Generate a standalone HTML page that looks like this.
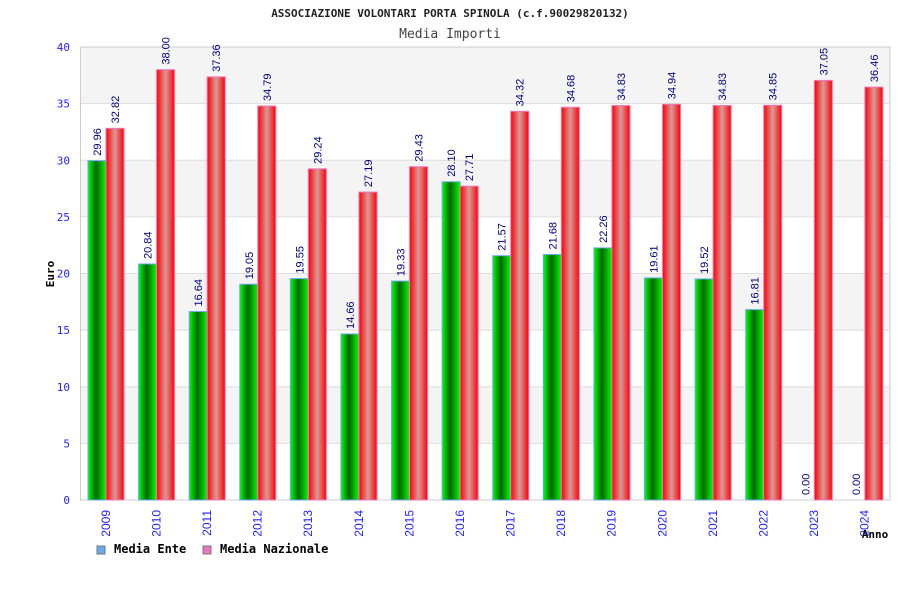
<!DOCTYPE html>
<html><head><meta charset="utf-8"><style>body{margin:0;background:#fff}svg text{font-family:"DejaVu Sans Mono","Liberation Mono",monospace}svg text.s{font-family:"Liberation Sans","DejaVu Sans",sans-serif}</style></head>
<body>
<svg id="c" width="900" height="600" xmlns="http://www.w3.org/2000/svg">
<defs>
<linearGradient id="gg" x1="0" x2="1"><stop offset="0" stop-color="#00ff00"/><stop offset="0.45" stop-color="#006600"/><stop offset="1" stop-color="#00ff00"/></linearGradient>
<linearGradient id="gr" x1="0" x2="1"><stop offset="0" stop-color="#ff0000"/><stop offset="0.5" stop-color="#d89a9a"/><stop offset="1" stop-color="#ff0000"/></linearGradient>
<clipPath id="cl"><rect x="0" y="36" width="900" height="600"/></clipPath>
</defs>
<text x="450" y="17" text-anchor="middle" font-size="11" font-weight="bold" fill="#222">ASSOCIAZIONE VOLONTARI PORTA SPINOLA (c.f.90029820132)</text>
<text x="450" y="38" text-anchor="middle" font-size="13" fill="#444">Media Importi</text>
<g id="grid"></g>
<g id="bars" clip-path="url(#cl)"></g>
<text x="54" y="274" transform="rotate(-90 54 274)" text-anchor="middle" font-size="11" font-weight="bold" fill="#000">Euro</text>
<text x="875" y="538" text-anchor="middle" font-size="11" font-weight="bold" fill="#000">Anno</text>
<g>
<rect x="97" y="546" width="8" height="8" fill="#66aaee" stroke="#777"/>
<text x="114" y="553" font-size="12" font-weight="bold">Media Ente</text>
<rect x="203" y="546" width="8" height="8" fill="#ee77bb" stroke="#777"/>
<text x="220" y="553" font-size="12" font-weight="bold">Media Nazionale</text>
</g>
</svg>
<script>
const years=["2009","2010","2011","2012","2013","2014","2015","2016","2017","2018","2019","2020","2021","2022","2023","2024"];
const ente=[29.96,20.84,16.64,19.05,19.55,14.66,19.33,28.10,21.57,21.68,22.26,19.61,19.52,16.81,0,0];
const naz=[32.82,38.00,37.36,34.79,29.24,27.19,29.43,27.71,34.32,34.68,34.83,34.94,34.83,34.85,37.05,36.46];
const yTicks=[0,5,10,15,20,25,30,35,40];
const L=80.5,R=890,T=47,B=500,yMax=40;
const gw=(R-L)/years.length;
const y=v=>B-(v/yMax)*(B-T);
const NS="http://www.w3.org/2000/svg";
function mk(t,a,p){const e=document.createElementNS(NS,t);for(const k in a)e.setAttribute(k,a[k]);p.appendChild(e);return e;}
const grid=document.getElementById('grid'),bars=document.getElementById('bars');
for(let i=0;i<yTicks.length-1;i++){
 const r=mk('rect',{x:L,y:y(yTicks[i+1]),width:R-L,height:y(yTicks[i])-y(yTicks[i+1]),fill:(i%2==1)?'#f4f4f4':'#ffffff'},grid);
 
 
}
yTicks.forEach(v=>{
 const l=mk('line',{x1:L,x2:R,y1:y(v),y2:y(v),stroke:'#dddddd'},grid);
 
 
 const t=mk('text',{x:70,y:y(v)+4,'text-anchor':'end','font-size':11,fill:'#2222ff'},grid);
 t.textContent=v;
 
 
});
mk('rect',{x:L,y:T,width:R-L,height:B-T,fill:'none',stroke:'#cccccc'},grid);
years.forEach((yr,i)=>{
 const g0=L+i*gw;
 [[ente[i],7.5,'url(#gg)','#66aaee','bar-ente-'+yr],[naz[i],25.5,'url(#gr)','#ee77bb','bar-nazionale-'+yr]].forEach(([v,off,f,s,nm])=>{
  const x=g0+off;
  if(v>0){const r=mk('rect',{x:x,y:y(v),width:18,height:B-y(v),fill:f,stroke:s,'stroke-width':1},bars);
  
  }
  const lx=x+13,ly=y(v)-5;
  const t=mk('text',{x:lx,y:ly,transform:`rotate(-90 ${lx} ${ly})`,'font-size':11,fill:'#000080','class':'s'},bars);
  t.textContent=v.toFixed(2);
  
  
 });
 const cx=g0+gw/2+4,cy=510;
 const t=mk('text',{x:cx,y:cy,transform:`rotate(-90 ${cx} ${cy})`,'text-anchor':'end','font-size':12,fill:'#2222ff','class':'s'},grid);
 t.textContent=yr;
 
 
});
</script>
</body></html>
